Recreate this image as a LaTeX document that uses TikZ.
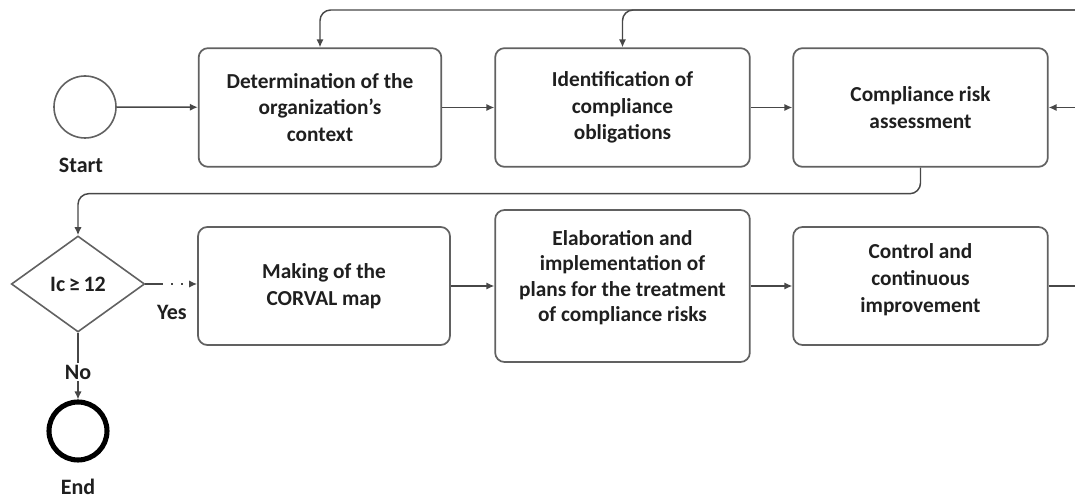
\documentclass[tikz,border=0pt]{standalone}
\usepackage{fontspec}
\setmainfont{Carlito}
\usetikzlibrary{arrows.meta,shapes.geometric,calc}
\begin{document}
\begin{tikzpicture}[x=0.75pt,y=-0.75pt,
  proc/.style={draw=black!62, line width=1.3pt, rounded corners=7pt, align=center,
    font=\bfseries\fontsize{16}{20}\selectfont, text=black!88, inner sep=0pt},
  conn/.style={draw=black!72, line width=1.1pt, rounded corners=8pt, -{Latex[length=6pt,width=5.5pt]}},
  wire/.style={draw=black!72, line width=1.1pt, rounded corners=8pt},
  lbl/.style={font=\bfseries\fontsize{16.5}{18}\selectfont, text=black!88, inner sep=1pt}]
\useasboundingbox (0,0) rectangle (1075,498);

% nodes
\node[draw=black!62, line width=1.2pt, circle, minimum size=46.5pt, inner sep=0pt] (start) at (85,107) {};
\node[lbl] (startl) at (81,165) {Start};
\node[proc, minimum width=182pt, minimum height=89pt] (b1) at (320,107.5)
  {Determination of the\\ organization{\char"0027}s\\ context};
\node[proc, minimum width=191pt, minimum height=89pt] (b2) at (622.5,107.5)
  {Identification of\\ compliance\\ obligations};
\node[proc, minimum width=191pt, minimum height=89pt] (b3) at (920.5,107.5)
  {Compliance risk\\ assessment};
\node[draw=black!62, line width=1.2pt, diamond, aspect=1.4, minimum width=100pt, minimum height=72pt,
  inner sep=0pt, font=\bfseries\fontsize{16.5}{18}\selectfont, text=black!88] (d) at (78,284) {Ic\,≥\,12};
\node[proc, minimum width=189pt, minimum height=88.5pt] (b4) at (324,286)
  {Making of the\\ CORVAL map};
\node[proc, minimum width=191pt, minimum height=114pt, font=\bfseries\fontsize{16}{19}\selectfont] (b5) at (622.5,286)
  {Elaboration and\\ implementation of\\ plans for the treatment\\ of compliance risks\\[-4pt]\mbox{}};
\node[proc, minimum width=191pt, minimum height=88.5pt] (b6) at (920.5,286)
  {Control and\\ continuous\\ improvement\\[-8pt]\mbox{}};
\node[lbl] (yes) at (172,312) {Yes};
\node[lbl] (no) at (78,372) {No};
\node[draw=black, line width=3.8pt, circle, minimum size=43.5pt, inner sep=0pt] (end) at (78,431) {};
\node[lbl] (endl) at (78,487) {End};

\coordinate (tr) at (1075,10);
\coordinate (r3) at (1075,107.5);
\coordinate (r6) at (1075,286);
\coordinate (ya) at (161,284);

% connectors
\draw[conn] (start) -- (b1);
\draw[conn] (b1) -- (b2);
\draw[conn] (b2) -- (b3);
\draw[conn] (r3) -- (b3);
\draw[conn] (tr) -| (b1.north);
\draw[conn] (tr) -| (b2.north);
\draw[conn] (b3.south) -- ++(0,26) -| (d.north);
\draw[wire] (d.east) -- (ya);
\draw[conn, rounded corners=0pt, dash pattern=on 1.5pt off 6pt] (ya) -- (b4.west |- ya);
\draw[conn] (b4) -- (b5);
\draw[conn] (b5) -- (b6);
\draw[wire] (b6.east) -- (r6);
\draw[wire] (d.south) -- (no.north);
\draw[conn] (no.south) -- (end.north);
\end{tikzpicture}
\end{document}
